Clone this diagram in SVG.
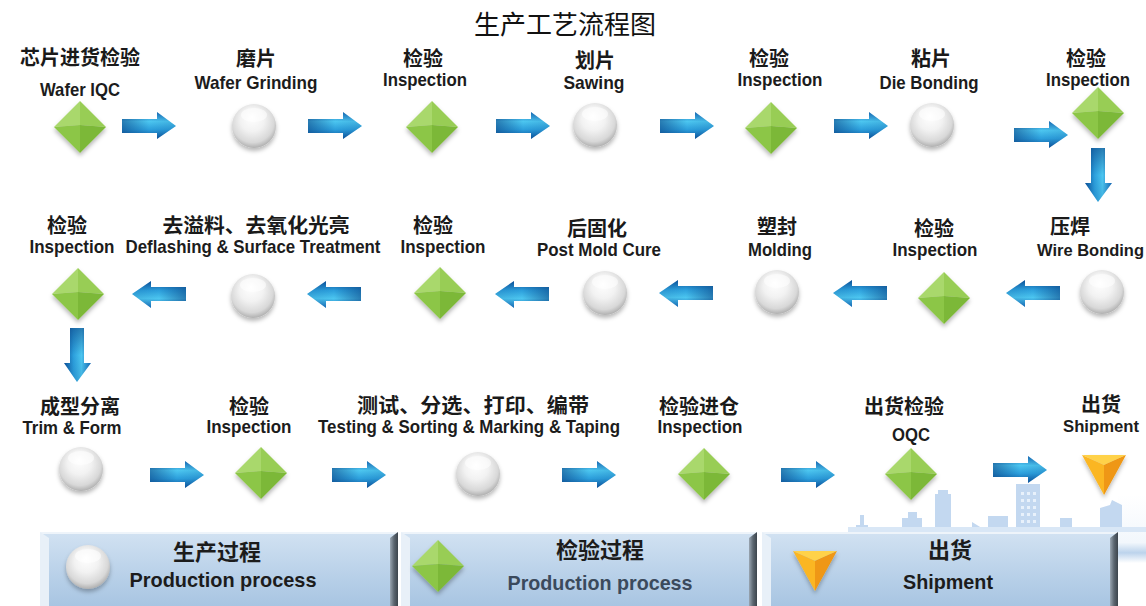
<svg xmlns="http://www.w3.org/2000/svg" xmlns:xlink="http://www.w3.org/1999/xlink" width="1146" height="606" viewBox="0 0 1146 606">
  <style>
    .title { font-family: "Noto Sans CJK SC", sans-serif; font-size: 26px; fill: #111; text-anchor: middle; }
    .zh { font-family: "Liberation Sans", "Noto Sans CJK SC", sans-serif; font-weight: bold; font-size: 20px; fill: #1a1a1a; text-anchor: middle; }
    .en { font-family: "Liberation Sans", "Noto Sans CJK SC", sans-serif; font-weight: bold; font-size: 18.5px; fill: #1c1c1c; text-anchor: middle; }
    .lzh { font-family: "Liberation Sans", "Noto Sans CJK SC", sans-serif; font-weight: bold; font-size: 22px; fill: #1c1c1c; text-anchor: middle; }
    .len { font-family: "Liberation Sans", sans-serif; font-weight: bold; font-size: 21px; fill: #1c1c1c; text-anchor: middle; }
    .city { fill: #c3d8f0; }
    .win { fill: #e8f1fb; }
  </style>
  <defs>
    <!-- blue 3D arrow body -->
    <linearGradient id="arrowGrad" x1="0" y1="0" x2="0" y2="1">
      <stop offset="0" stop-color="#1668b4"/>
      <stop offset="0.35" stop-color="#4cc6f0"/>
      <stop offset="0.65" stop-color="#2c9fdc"/>
      <stop offset="1" stop-color="#0b4f98"/>
    </linearGradient>
    <linearGradient id="arrowShade" x1="0" y1="0" x2="1" y2="0">
      <stop offset="0" stop-color="#0a3f80" stop-opacity="0.55"/>
      <stop offset="0.5" stop-color="#0a3f80" stop-opacity="0"/>
      <stop offset="1" stop-color="#0a3f80" stop-opacity="0.15"/>
    </linearGradient>
    <radialGradient id="sphereGrad" cx="0.48" cy="0.42" r="0.6" fx="0.45" fy="0.3">
      <stop offset="0" stop-color="#ffffff"/>
      <stop offset="0.45" stop-color="#f2f2f2"/>
      <stop offset="0.8" stop-color="#d8d8d8"/>
      <stop offset="1" stop-color="#a9a9a9"/>
    </radialGradient>
    <linearGradient id="barGrad" x1="0" y1="0" x2="0" y2="1">
      <stop offset="0" stop-color="#d2e2f2"/>
      <stop offset="0.5" stop-color="#bcd3ea"/>
      <stop offset="1" stop-color="#a8c5e2"/>
    </linearGradient>
    <linearGradient id="bevelDark" x1="0" y1="0" x2="1" y2="0">
      <stop offset="0" stop-color="#9aa6b2"/>
      <stop offset="0.5" stop-color="#5b6670"/>
      <stop offset="1" stop-color="#3c444c"/>
    </linearGradient>
    <linearGradient id="sideBand" x1="0" y1="0" x2="0" y2="1">
      <stop offset="0" stop-color="#ffffff"/>
      <stop offset="0.7" stop-color="#f2f7fc"/>
      <stop offset="0.85" stop-color="#bcd3ec"/>
      <stop offset="1" stop-color="#ffffff"/>
    </linearGradient>
    <filter id="shadow" x="-40%" y="-40%" width="180%" height="190%">
      <feDropShadow dx="0" dy="3" stdDeviation="2" flood-color="#000" flood-opacity="0.28"/>
    </filter>

    <!-- inspection: green pyramid diamond -->
    <g id="diamond" filter="url(#shadow)">
      <polygon points="-26,0 0,-26 0,-2" fill="#a9d86c"/>
      <polygon points="0,-26 26,0 0,-2" fill="#98cd55"/>
      <polygon points="26,0 0,26 0,-2" fill="#7cb838"/>
      <polygon points="0,26 -26,0 0,-2" fill="#8cc646"/>
    </g>
    <!-- production: white sphere -->
    <g id="sphere" filter="url(#shadow)">
      <circle r="22" fill="url(#sphereGrad)"/>
      <ellipse cx="0" cy="-11" rx="13" ry="7" fill="#ffffff" opacity="0.55"/>
    </g>
    <!-- shipment: orange pyramid triangle -->
    <g id="tri" filter="url(#shadow)">
      <polygon points="-22,-17 22,-17 0,-7" fill="#ffd24a"/>
      <polygon points="-22,-17 0,-7 0,23" fill="#fbb623"/>
      <polygon points="22,-17 0,23 0,-7" fill="#ef9712"/>
    </g>
    <!-- flow arrow, pointing +x, length 54 -->
    <g id="arrow">
      <path d="M0,-7 L35,-7 L35,-14 L54,0 L35,13 L35,7 L0,7 Z" fill="url(#arrowGrad)"/>
      <path d="M0,-7 L35,-7 L35,-14 L54,0 L35,13 L35,7 L0,7 Z" fill="url(#arrowShade)"/>
    </g>
  </defs>

  <rect width="1146" height="606" fill="#ffffff"/>

  <text class="title" x="565" y="34">生产工艺流程图</text>

  <!-- skyline behind the last row -->
  <g id="skyline">
    <rect x="1118" y="495" width="28" height="68" fill="url(#sideBand)"/>
    <rect class="city" x="860" y="515" width="4" height="16"/>
    <rect class="city" x="856" y="525" width="12" height="6"/>
    <rect class="city" x="902" y="518" width="20" height="13"/>
    <rect class="city" x="908" y="512" width="9" height="8"/>
    <rect class="city" x="935" y="494" width="16" height="37"/>
    <rect class="city" x="938" y="490" width="10" height="6"/>
    <polygon class="city" points="972,522 985,530 972,531"/>
    <rect class="city" x="988" y="516" width="20" height="15"/>
    <rect class="city" x="1016" y="484" width="24" height="47"/>
    <g class="win">
      <rect x="1021" y="492" width="3" height="3"/><rect x="1027" y="492" width="3" height="3"/><rect x="1033" y="492" width="3" height="3"/>
      <rect x="1021" y="499" width="3" height="3"/><rect x="1027" y="499" width="3" height="3"/><rect x="1033" y="499" width="3" height="3"/>
      <rect x="1021" y="506" width="3" height="3"/><rect x="1027" y="506" width="3" height="3"/><rect x="1033" y="506" width="3" height="3"/>
      <rect x="1021" y="513" width="3" height="3"/><rect x="1027" y="513" width="3" height="3"/><rect x="1033" y="513" width="3" height="3"/>
      <rect x="1021" y="520" width="3" height="3"/><rect x="1027" y="520" width="3" height="3"/><rect x="1033" y="520" width="3" height="3"/>
    </g>
    <rect class="city" x="1060" y="518" width="12" height="13"/>
    <polygon class="city" points="1100,508 1110,505 1112,500 1122,505 1122,531 1100,531"/>
    <rect x="848" y="527" width="298" height="5" fill="#d9e7f6"/>
  </g>

  <g id="connectors">
    <!-- row 1, left to right -->
    <use href="#arrow" transform="translate(122,126)"/>
    <use href="#arrow" transform="translate(308,126)"/>
    <use href="#arrow" transform="translate(496,126)"/>
    <use href="#arrow" transform="translate(660,126)"/>
    <use href="#arrow" transform="translate(834,126)"/>
    <use href="#arrow" transform="translate(1014,135)"/>
    <use href="#arrow" transform="translate(1098,148) rotate(90)"/>
    <!-- row 2, right to left -->
    <use href="#arrow" transform="translate(1060,293) rotate(180)"/>
    <use href="#arrow" transform="translate(887,293) rotate(180)"/>
    <use href="#arrow" transform="translate(713,293) rotate(180)"/>
    <use href="#arrow" transform="translate(549,294) rotate(180)"/>
    <use href="#arrow" transform="translate(361,294) rotate(180)"/>
    <use href="#arrow" transform="translate(186,294) rotate(180)"/>
    <use href="#arrow" transform="translate(77,328) rotate(90)"/>
    <!-- row 3, left to right -->
    <use href="#arrow" transform="translate(150,475)"/>
    <use href="#arrow" transform="translate(332,475)"/>
    <use href="#arrow" transform="translate(562,475)"/>
    <use href="#arrow" transform="translate(781,475)"/>
    <use href="#arrow" transform="translate(993,470)"/>
  </g>

  <!-- row 1 -->
  <g id="n1"><text class="zh" x="80" y="65">芯片进货检验</text><text class="en" x="80" y="96" textLength="80" lengthAdjust="spacingAndGlyphs">Wafer IQC</text><use href="#diamond" x="80" y="127"/></g>
  <g id="n2"><text class="zh" x="256" y="66">磨片</text><text class="en" x="256" y="89" textLength="123" lengthAdjust="spacingAndGlyphs">Wafer Grinding</text><use href="#sphere" x="254" y="126"/></g>
  <g id="n3"><text class="zh" x="423" y="66">检验</text><text class="en" x="425" y="86" textLength="84" lengthAdjust="spacingAndGlyphs">Inspection</text><use href="#diamond" x="432" y="127"/></g>
  <g id="n4"><text class="zh" x="595" y="68">划片</text><text class="en" x="594" y="89" textLength="61" lengthAdjust="spacingAndGlyphs">Sawing</text><use href="#sphere" x="595" y="125"/></g>
  <g id="n5"><text class="zh" x="769" y="66">检验</text><text class="en" x="780" y="86" textLength="85" lengthAdjust="spacingAndGlyphs">Inspection</text><use href="#diamond" x="771" y="128"/></g>
  <g id="n6"><text class="zh" x="931" y="66">粘片</text><text class="en" x="929" y="89" textLength="99" lengthAdjust="spacingAndGlyphs">Die Bonding</text><use href="#sphere" x="932" y="125"/></g>
  <g id="n7"><text class="zh" x="1086" y="66">检验</text><text class="en" x="1088" y="86" textLength="84" lengthAdjust="spacingAndGlyphs">Inspection</text><use href="#diamond" x="1098" y="113"/></g>

  <!-- row 2 -->
  <g id="n8"><text class="zh" x="1070" y="234">压焊</text><text class="en" x="1037" y="256" style="text-anchor:start;font-size:16.5px" textLength="107" lengthAdjust="spacingAndGlyphs">Wire Bonding</text><use href="#sphere" x="1102" y="292"/></g>
  <g id="n9"><text class="zh" x="934" y="236">检验</text><text class="en" x="935" y="256" textLength="85" lengthAdjust="spacingAndGlyphs">Inspection</text><use href="#diamond" x="944" y="298"/></g>
  <g id="n10"><text class="zh" x="777" y="234">塑封</text><text class="en" x="780" y="256" textLength="64" lengthAdjust="spacingAndGlyphs">Molding</text><use href="#sphere" x="777" y="292"/></g>
  <g id="n11"><text class="zh" x="597" y="236">后固化</text><text class="en" x="599" y="256" textLength="124" lengthAdjust="spacingAndGlyphs">Post Mold Cure</text><use href="#sphere" x="605" y="293"/></g>
  <g id="n12"><text class="zh" x="433" y="233">检验</text><text class="en" x="443" y="253" textLength="85" lengthAdjust="spacingAndGlyphs">Inspection</text><use href="#diamond" x="440" y="293"/></g>
  <g id="n13"><text class="zh" x="256" y="233" textLength="187" lengthAdjust="spacingAndGlyphs">去溢料、去氧化光亮</text><text class="en" x="253" y="253" textLength="255" lengthAdjust="spacingAndGlyphs">Deflashing &amp; Surface Treatment</text><use href="#sphere" x="253" y="296"/></g>
  <g id="n14"><text class="zh" x="67" y="233">检验</text><text class="en" x="72" y="253" textLength="85" lengthAdjust="spacingAndGlyphs">Inspection</text><use href="#diamond" x="78" y="294"/></g>

  <!-- row 3 -->
  <g id="n15"><text class="zh" x="80" y="414">成型分离</text><text class="en" x="72" y="434" textLength="99" lengthAdjust="spacingAndGlyphs">Trim &amp; Form</text><use href="#sphere" x="81" y="469"/></g>
  <g id="n16"><text class="zh" x="249" y="414">检验</text><text class="en" x="249" y="433" textLength="85" lengthAdjust="spacingAndGlyphs">Inspection</text><use href="#diamond" x="261" y="473"/></g>
  <g id="n17"><text class="zh" x="473" y="413" textLength="232" lengthAdjust="spacingAndGlyphs">测试、分选、打印、编带</text><text class="en" x="469" y="433" textLength="302" lengthAdjust="spacingAndGlyphs">Testing &amp; Sorting &amp; Marking &amp; Taping</text><use href="#sphere" x="478" y="474"/></g>
  <g id="n18"><text class="zh" x="699" y="414">检验进仓</text><text class="en" x="700" y="433" textLength="85" lengthAdjust="spacingAndGlyphs">Inspection</text><use href="#diamond" x="704" y="474"/></g>
  <g id="n19"><text class="zh" x="904" y="414">出货检验</text><text class="en" x="911" y="441" textLength="38" lengthAdjust="spacingAndGlyphs">OQC</text><use href="#diamond" x="911" y="474"/></g>
  <g id="n20"><text class="zh" x="1101" y="412">出货</text><text class="en" x="1101" y="432" style="font-size:17px" textLength="76" lengthAdjust="spacingAndGlyphs">Shipment</text><use href="#tri" x="1104" y="472"/></g>

  <!-- legend bar -->
  <g id="legend">
    <g id="legend-production">
      <rect x="40" y="532" width="358" height="74" fill="url(#barGrad)"/>
      <rect x="40" y="532" width="358" height="2" fill="#eef4fa"/>
      <polygon points="40,532 49,538 49,606 40,606" fill="#e8f0f8"/>
      <polygon points="390,538 398,532 398,606 390,606" fill="url(#bevelDark)"/>
      <use href="#sphere" x="88" y="567"/>
      <text class="lzh" x="217" y="560">生产过程</text>
      <text class="len" x="223" y="587" textLength="187" lengthAdjust="spacingAndGlyphs">Production process</text>
    </g>
    <g id="legend-inspection">
      <rect x="401" y="532" width="356" height="74" fill="url(#barGrad)"/>
      <rect x="401" y="532" width="356" height="2" fill="#eef4fa"/>
      <polygon points="401,532 410,538 410,606 401,606" fill="#e8f0f8"/>
      <polygon points="749,538 757,532 757,606 749,606" fill="url(#bevelDark)"/>
      <use href="#diamond" x="438" y="566"/>
      <text class="lzh" x="600" y="558">检验过程</text>
      <text class="len" x="600" y="590" textLength="185" lengthAdjust="spacingAndGlyphs" style="fill:#3b4a5c">Production process</text>
    </g>
    <g id="legend-shipment">
      <rect x="762" y="532" width="356" height="74" fill="url(#barGrad)"/>
      <rect x="762" y="532" width="356" height="2" fill="#eef4fa"/>
      <polygon points="762,532 771,538 771,606 762,606" fill="#e8f0f8"/>
      <polygon points="1110,538 1118,532 1118,606 1110,606" fill="url(#bevelDark)"/>
      <use href="#tri" x="815" y="568"/>
      <text class="lzh" x="950" y="558">出货</text>
      <text class="len" x="948" y="589" textLength="90" lengthAdjust="spacingAndGlyphs">Shipment</text>
    </g>
  </g>
</svg>
